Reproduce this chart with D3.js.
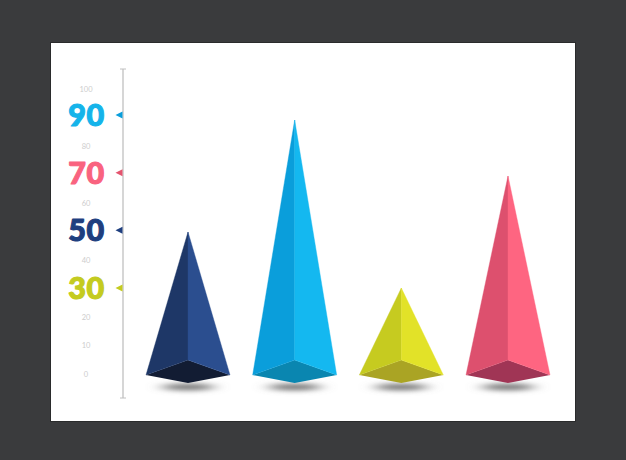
<!DOCTYPE html>
<html><head><meta charset="utf-8">
<script src="https://cdn.jsdelivr.net/npm/d3@7"></script>
<style>html,body{margin:0;padding:0;background:#3a3b3d;overflow:hidden}svg{display:block}</style>
</head><body><svg id="c" width="626" height="460"></svg>
<script>
const categories = ["A","B","C","D"];
const seriesValues = [50,90,30,70];
const leftColors = ["#1e3767","#0a9edb","#c6cb20","#dd506e"];
const rightColors = ["#2b4e8f","#14b8f0","#e2e228","#fe6581"];
const baseColors = ["#121c33","#0a86b0","#aaa424","#a03555"];
const smallTicks = [0,10,20,40,60,80,100];
const bigTicks = [90,70,50,30];
const bigColors = ["#15b4ea","#f9637f","#1f3f7f","#c4cb20"];
const markColors = ["#0a9edb","#e4546f","#1f3f7f","#c4cb20"];

const svg = d3.select("#c");
svg.append("rect").attr("x",50).attr("y",42).attr("width",526).attr("height",380).attr("fill","#2a2b2c");
svg.append("rect").attr("x",51).attr("y",43).attr("width",524).attr("height",378).attr("fill","#fff");

const defs = svg.append("defs");
const f = defs.append("filter").attr("id","blur").attr("x","-50%").attr("y","-400%").attr("width","200%").attr("height","900%");
f.append("feGaussianBlur").attr("stdDeviation","8 2.6");

const x = d3.scalePoint().domain(categories).range([188,508]);
const h = d3.scaleLinear().domain([0,90]).range([372,120]);
const tickY = d3.scaleLinear().domain([0,100]).range([374,89]);
const markY = d3.scaleLinear().domain([30,90]).range([288,115]);
const halfW = 42, baseY = 375, backY = 360, frontY = 383;
const line = d3.line();

// axis
const axisX = 123;
svg.append("line").attr("x1",axisX).attr("x2",axisX).attr("y1",69).attr("y2",398).attr("stroke","#c9c9c9").attr("stroke-width",1.5);
[69,398].forEach(y=>svg.append("line").attr("x1",axisX-3).attr("x2",axisX+3).attr("y1",y).attr("y2",y).attr("stroke","#c0c0c0").attr("stroke-width",1));

svg.selectAll(".st").data(smallTicks).join("text").attr("class","st")
  .attr("x",86).attr("y",d=>tickY(d)).attr("dy","0.35em").attr("text-anchor","middle")
  .attr("font-family","Lato").attr("font-weight",400).attr("font-size",7.5).attr("fill","#cdcdcd").text(d=>d);

svg.selectAll(".bt").data(bigTicks).join("text").attr("class","bt")
  .attr("x",86.5).attr("y",d=>markY(d)).attr("dy","0.36em").attr("text-anchor","middle")
  .attr("font-family","Lato").attr("font-weight",900).attr("font-size",30.5).attr("letter-spacing",0.6).attr("stroke-width",1.1)
  .attr("stroke-linejoin","round")
  .attr("fill",(d,i)=>bigColors[i]).attr("stroke",(d,i)=>bigColors[i]).text(d=>d);

svg.selectAll(".mk").data(bigTicks).join("path").attr("class","mk")
  .attr("d",d=>line([[axisX-0.5,markY(d)-3.5],[axisX-7.5,markY(d)],[axisX-0.5,markY(d)+3.5]])+"Z")
  .attr("fill",(d,i)=>markColors[i]);

// pyramids
const g = svg.selectAll(".p").data(categories).join("g").attr("class","p");
g.append("ellipse").attr("cx",d=>x(d)).attr("cy",387).attr("rx",26).attr("ry",3.6).attr("fill","#7a7a7a").attr("filter","url(#blur)");
g.append("path").attr("fill",(d,i)=>baseColors[i]).attr("d",d=>line([[x(d)-halfW,baseY],[x(d),backY],[x(d)+halfW,baseY],[x(d),frontY]])+"Z");
g.append("path").attr("fill",(d,i)=>leftColors[i]).attr("stroke",(d,i)=>leftColors[i]).attr("stroke-width",0.4).attr("d",(d,i)=>line([[x(d),h(seriesValues[i])],[x(d)-halfW,baseY],[x(d),backY]])+"Z");
g.append("path").attr("fill",(d,i)=>rightColors[i]).attr("stroke",(d,i)=>rightColors[i]).attr("stroke-width",0.4).attr("d",(d,i)=>line([[x(d),h(seriesValues[i])],[x(d)+halfW,baseY],[x(d),backY]])+"Z");
</script></body></html>
